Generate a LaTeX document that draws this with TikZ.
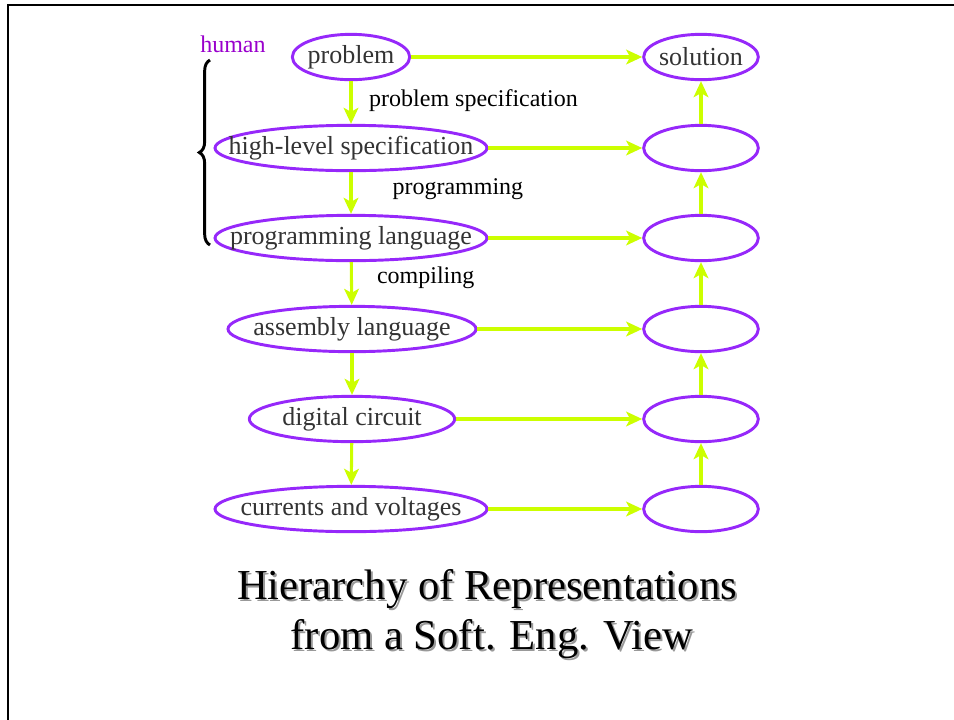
\documentclass[tikz,border=0pt]{standalone}
\usepackage{fontspec}
\setmainfont{Liberation Serif}
\usetikzlibrary{shapes.geometric,arrows.meta,decorations.pathreplacing}
\definecolor{repline}{RGB}{150,40,250}
\definecolor{reparrow}{RGB}{204,255,0}
\definecolor{humanpurple}{RGB}{153,0,204}
\newcommand\reptext[1]{\makebox[0pt]{#1}} % text that does not widen its ellipse
\tikzset{
  rep/.style={ellipse,draw=repline,line width=2.2pt,minimum height=34pt,inner sep=0pt,font=\fontsize{19.5}{22}\selectfont,text=black!80},
  flow/.style={draw=reparrow,line width=2.3pt,-{Stealth[length=12pt,width=11pt,inset=3pt]}},
  edgelabel/.style={anchor=west,inner sep=0pt,font=\fontsize{18}{20}\selectfont},
  titletext/.style={anchor=base,inner sep=0pt,font=\fontsize{32}{38}\selectfont}
}
\begin{document}
\begin{tikzpicture}[x=0.75pt,y=-0.75pt]
\useasboundingbox (0,0) rectangle (954,719);
\draw[line width=1.6pt] (8,722) -- (8,5) -- (956,5);   % slide frame
% left column: the representations
\node[rep,minimum width=88pt] (prob) at (351,57) {\reptext{problem}};
\node[rep,minimum width=204pt] (hls) at (351,148) {\reptext{high-level specification}};
\node[rep,minimum width=204pt] (pl) at (351,238) {\reptext{programming language}};
\node[rep,minimum width=186pt] (asm) at (352,329) {\reptext{assembly language}};
\node[rep,minimum width=154pt] (dc) at (352,419) {\reptext{digital circuit}};
\node[rep,minimum width=204pt] (cv) at (351,509) {\reptext{currents and voltages}};
% right column: the solutions
\node[rep,minimum width=86pt] (sol) at (701,57) {\reptext{solution}};
\node[rep,minimum width=86pt] (shls) at (701,148) {};
\node[rep,minimum width=86pt] (spl) at (701,238) {};
\node[rep,minimum width=86pt] (sasm) at (701,329) {};
\node[rep,minimum width=86pt] (sdc) at (701,419) {};
\node[rep,minimum width=86pt] (scv) at (701,509) {};
% down the left column
\draw[flow] (prob) -- node[edgelabel,xshift=12.5pt,yshift=1.5pt] {problem specification} (hls);
\draw[flow] (hls) -- node[edgelabel,xshift=30pt,yshift=3pt] {programming} (pl);
\draw[flow] (pl) -- node[edgelabel,xshift=18pt,yshift=4pt] {compiling} (asm);
\draw[flow] (asm) -- (dc);
\draw[flow] (dc) -- (cv);
% across
\draw[flow] (prob) -- (sol);
\draw[flow] (hls) -- (shls);
\draw[flow] (pl) -- (spl);
\draw[flow] (asm) -- (sasm);
\draw[flow] (dc) -- (sdc);
\draw[flow] (cv) -- (scv);
% up the right column
\draw[flow] (scv) -- (sdc);
\draw[flow] (sdc) -- (sasm);
\draw[flow] (sasm) -- (spl);
\draw[flow] (spl) -- (shls);
\draw[flow] (shls) -- (sol);
% the human part
\node[anchor=base west,inner sep=0pt,text=humanpurple,font=\fontsize{18}{20}\selectfont] (human) at (200,52) {human};
\draw[line width=2.2pt,decorate,decoration={brace,amplitude=8pt}] (210,245) -- (210,60);
% title, with its shadow
\node[titletext,text=black!40] at (489,601) {Hierarchy of Representations};
\node[titletext] (title) at (487,599) {Hierarchy of Representations};
\node[titletext,text=black!40] at (494,651) {from a Soft. Eng. View};
\node[titletext] (subtitle) at (492,649) {from a Soft. Eng. View};
\end{tikzpicture}
\end{document}
